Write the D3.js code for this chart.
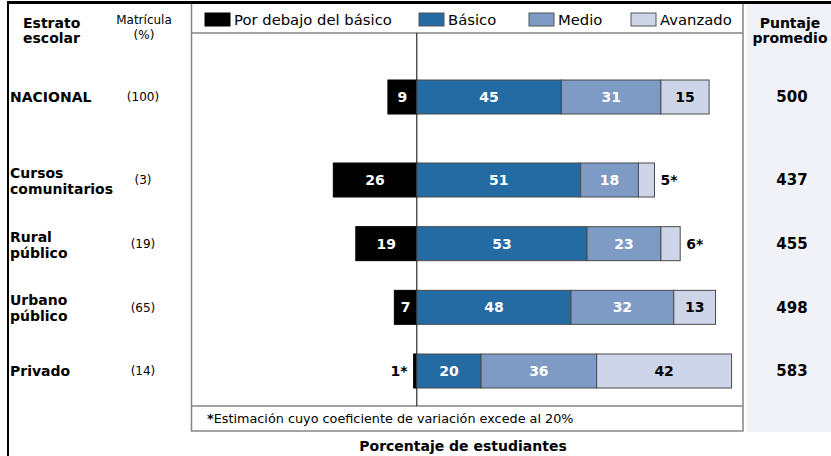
<!DOCTYPE html>
<html>
<head>
<meta charset="utf-8">
<script src="https://cdn.jsdelivr.net/npm/d3@7"></script>
<style>
    body { margin: 0; background: #ffffff; }
    svg text { font-family: "DejaVu Sans", Verdana, sans-serif; }
</style>
</head>
<body>
<div id="chart"></div>
<script>
// data
var categories = ["NACIONAL", "Cursos comunitarios", "Rural público", "Urbano público", "Privado"];
var labelLines = [["NACIONAL"], ["Cursos", "comunitarios"], ["Rural", "público"], ["Urbano", "público"], ["Privado"]];
var matricula = [100, 3, 19, 65, 14];
var porDebajo = [9, 26, 19, 7, 1];
var basico = [45, 51, 53, 48, 20];
var medio = [31, 18, 23, 32, 36];
var avanzado = [15, 5, 6, 13, 42];
var puntaje = [500, 437, 455, 498, 583];
// estimates marked with an asterisk
var porDebajoStar = [false, false, false, false, true];
var avanzadoStar = [false, true, true, false, false];

var levelNames = ["Por debajo del básico", "Básico", "Medio", "Avanzado"];
var levelColors = ["#000000", "#246aa3", "#7e9bc6", "#cfd5e8"];

window.onload = function() {
    draw();
};

function draw() {
    var width = 831;
    var height = 456;
    var barH = 34;
    var nationalGap = 83;

    var svg = d3.select("#chart").append("svg")
        .attr("width", width)
        .attr("height", height);

    // x scale, zero at the vertical line
    var x = d3.scaleLinear()
        .domain([-70, 100])
        .range([192, 738]);

    // rows: the strata are evenly spaced, NACIONAL sits above with a gap
    var yp = d3.scalePoint()
        .domain(categories.slice(1))
        .range([180, 371]);
    function rowY(i) {
        return i === 0 ? yp(categories[1]) - nationalGap : yp(categories[i]);
    }

    // right column background
    svg.append("rect")
        .attr("x", 747).attr("y", 4)
        .attr("width", width - 747).attr("height", 428)
        .attr("fill", "#f1f2f8");

    // panel frame
    svg.append("rect")
        .attr("x", 191.5).attr("y", 3)
        .attr("width", 551.5).attr("height", 428)
        .attr("fill", "none")
        .attr("stroke", "#858585")
        .attr("stroke-width", 1.5);
    svg.append("line")
        .attr("x1", 191.5).attr("x2", 743).attr("y1", 33).attr("y2", 33)
        .attr("stroke", "#858585").attr("stroke-width", 1.5);
    svg.append("line")
        .attr("x1", 191.5).attr("x2", 743).attr("y1", 406).attr("y2", 406)
        .attr("stroke", "#858585").attr("stroke-width", 1.5);

    // black outer lines
    svg.append("rect").attr("x", 7).attr("y", 1).attr("width", width - 7).attr("height", 3).attr("fill", "#000");
    svg.append("rect").attr("x", 7).attr("y", 1).attr("width", 2).attr("height", height).attr("fill", "#000");

    // zero line
    svg.append("line")
        .attr("x1", x(0)).attr("x2", x(0)).attr("y1", 33).attr("y2", 406)
        .attr("stroke", "#000").attr("stroke-width", 1);

    // legend
    var legendX = [205, 419, 529, 631];
    levelNames.forEach(function(name, k) {
        svg.append("rect")
            .attr("x", legendX[k]).attr("y", 13)
            .attr("width", 25).attr("height", 13)
            .attr("fill", levelColors[k])
            .attr("stroke", k === 0 ? "#000" : "#555")
            .attr("stroke-width", 1);
        svg.append("text")
            .attr("x", legendX[k] + 29).attr("y", 20)
            .attr("dy", "0.35em")
            .style("font-size", "14.8px")
            .text(name);
    });

    // column headers
    svg.append("text").attr("x", 23).attr("y", 28).style("font-size", "14px").style("font-weight", "bold").text("Estrato");
    svg.append("text").attr("x", 23).attr("y", 43).style("font-size", "14px").style("font-weight", "bold").text("escolar");
    svg.append("text").attr("x", 144).attr("y", 24).attr("text-anchor", "middle").style("font-size", "12px").text("Matrícula");
    svg.append("text").attr("x", 144).attr("y", 39).attr("text-anchor", "middle").style("font-size", "12px").text("(%)");
    svg.append("text").attr("x", 790).attr("y", 28).attr("text-anchor", "middle").style("font-size", "14px").style("font-weight", "bold").text("Puntaje");
    svg.append("text").attr("x", 790).attr("y", 43).attr("text-anchor", "middle").style("font-size", "14px").style("font-weight", "bold").text("promedio");

    // rows
    categories.forEach(function(cat, i) {
        var cy = rowY(i);
        var top = cy - barH / 2;

        // row label
        var lines = labelLines[i];
        lines.forEach(function(line, j) {
            var ly = lines.length === 1 ? cy : cy - 7 + j * 16;
            svg.append("text")
                .attr("x", 10).attr("y", ly)
                .attr("dy", "0.35em")
                .style("font-size", "14px")
                .style("font-weight", "bold")
                .text(line);
        });

        // matrícula
        svg.append("text")
            .attr("x", 143).attr("y", cy)
            .attr("dy", "0.35em")
            .attr("text-anchor", "middle")
            .style("font-size", "12px")
            .text("(" + matricula[i] + ")");

        // puntaje
        svg.append("text")
            .attr("x", 792).attr("y", cy)
            .attr("dy", "0.35em")
            .attr("text-anchor", "middle")
            .style("font-size", "15px")
            .style("font-weight", "bold")
            .text(puntaje[i]);

        // segments: below basic goes left, the rest stack to the right
        var segs = [
            {v: porDebajo[i], x0: -porDebajo[i], x1: 0, star: porDebajoStar[i], k: 0},
            {v: basico[i], x0: 0, x1: basico[i], star: false, k: 1},
            {v: medio[i], x0: basico[i], x1: basico[i] + medio[i], star: false, k: 2},
            {v: avanzado[i], x0: basico[i] + medio[i], x1: basico[i] + medio[i] + avanzado[i], star: avanzadoStar[i], k: 3}
        ];

        segs.forEach(function(s) {
            svg.append("rect")
                .attr("x", x(s.x0))
                .attr("y", top)
                .attr("width", x(s.x1) - x(s.x0))
                .attr("height", barH)
                .attr("fill", levelColors[s.k])
                .attr("stroke", s.k === 0 ? "#000" : "#4a4a4a")
                .attr("stroke-width", 1);

            var t = svg.append("text")
                .attr("y", cy)
                .attr("dy", "0.35em")
                .style("font-size", "14px")
                .style("font-weight", "bold");
            if (s.star) {
                // small estimates go outside the bar
                if (s.k === 0) {
                    t.attr("x", x(s.x0) - 6).attr("text-anchor", "end");
                } else {
                    t.attr("x", x(s.x1) + 6).attr("text-anchor", "start");
                }
                t.attr("fill", "#000").text(s.v + "*");
            } else {
                t.attr("x", (x(s.x0) + x(s.x1)) / 2)
                    .attr("text-anchor", "middle")
                    .attr("fill", s.k === 3 ? "#000" : "#fff")
                    .text(s.v);
            }
        });
    });

    // footnote
    var foot = svg.append("text")
        .attr("x", 207).attr("y", 419)
        .attr("dy", "0.35em")
        .style("font-size", "12.8px");
    foot.append("tspan").style("font-weight", "bold").text("*");
    foot.append("tspan").text("Estimación cuyo coeficiente de variación excede al 20%");

    // axis title
    svg.append("text")
        .attr("x", 463).attr("y", 446)
        .attr("dy", "0.35em")
        .attr("text-anchor", "middle")
        .style("font-size", "14px")
        .style("font-weight", "bold")
        .text("Porcentaje de estudiantes");
}
</script>
</body>
</html>
